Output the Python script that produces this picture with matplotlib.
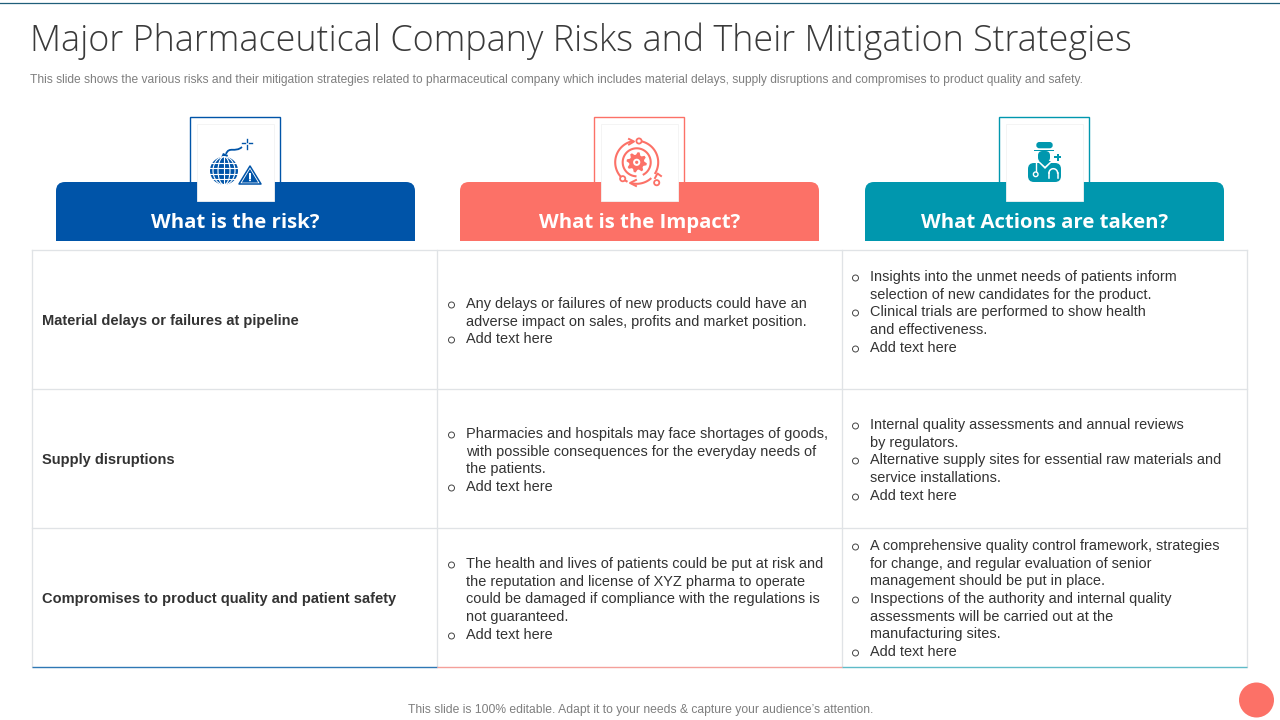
import numpy as np
import matplotlib
matplotlib.use("Agg")
import matplotlib.pyplot as plt
from matplotlib.patches import Rectangle, Circle, FancyBboxPatch, Polygon, Ellipse, PathPatch
from matplotlib.path import Path

BLUE = "#0054A8"; CORAL = "#FC7167"; TEAL = "#0097AE"
FS = "Liberation Sans"

title = "Major Pharmaceutical Company Risks and Their Mitigation Strategies"
subtitle = ("This slide shows the various risks and their mitigation strategies related to pharmaceutical company "
            "which includes material delays, supply disruptions and compromises to product quality and safety.")
footer = "This slide is 100% editable. Adapt it to your needs & capture your audience\u2019s attention."
headers = ["What is the risk?", "What is the Impact?", "What Actions are taken?"]
header_colors = [BLUE, CORAL, TEAL]
risks = ["Material delays or failures at pipeline", "Supply disruptions",
         "Compromises to product quality and patient safety"]
risk_y = [320, 459, 598]
impact_lines = [
    [("o", "Any delays or failures of new products could have an", 303),
     ("", "adverse impact on sales, profits and market position.", 321),
     ("o", "Add text here", 338)],
    [("o", "Pharmacies and hospitals may face shortages of goods,", 433),
     ("", "with possible consequences for the everyday needs of", 451),
     ("", "the patients.", 468),
     ("o", "Add text here", 486)],
    [("o", "The health and lives of patients could be put at risk and", 563),
     ("", "the reputation and license of XYZ pharma to operate", 581),
     ("", "could be damaged if compliance with the regulations is", 598),
     ("", "not guaranteed.", 616),
     ("o", "Add text here", 634)],
]
action_lines = [
    [("o", "Insights into the unmet needs of patients inform", 276),
     ("", "selection of new candidates for the product.", 294),
     ("o", "Clinical trials are performed to show health", 311),
     ("", "and effectiveness.", 329),
     ("o", "Add text here", 347)],
    [("o", "Internal quality assessments and annual reviews", 424),
     ("", "by regulators.", 442),
     ("o", "Alternative supply sites for essential raw materials and", 459),
     ("", "service installations.", 477),
     ("o", "Add text here", 495)],
    [("o", "A comprehensive quality control framework, strategies", 545),
     ("", "for change, and regular evaluation of senior", 563),
     ("", "management should be put in place.", 580),
     ("o", "Inspections of the authority and internal quality", 598),
     ("", "assessments will be carried out at the", 616),
     ("", "manufacturing sites.", 633),
     ("o", "Add text here", 651)],
]

fig = plt.figure(figsize=(12.8, 7.2), dpi=100)
ax = fig.add_axes([0, 0, 1, 1])
ax.set_xlim(0, 1280); ax.set_ylim(720, 0); ax.axis("off")

ax.plot([0, 1280], [3, 3], color="#1F5F7A", lw=0.9)

ax.text(30, 41, title, fontsize=25.83, family="Open Sans", weight="light", color="#3A3A3A", va="center")
ax.text(30, 80, subtitle, fontsize=8.63, family=FS, color="#7F7F7F", va="center")
ax.text(640.5, 710, footer, fontsize=8.7, family=FS, color="#7F7F7F", va="center", ha="center")

tab_x = [56, 460, 865]; tab_w = 359
frame_x = [190, 594, 999]; frame_w = 90
for x, fx, col, h in zip(tab_x, frame_x, header_colors, headers):
    ax.add_patch(Rectangle((fx, 117), frame_w, 70, fc="white", ec=col, lw=1, zorder=1))
    ax.add_patch(FancyBboxPatch((x + 9, 182 + 9), tab_w - 18, 41,
                                boxstyle="round,pad=9,rounding_size=9", fc=col, ec="none", zorder=2))
    ax.add_patch(Rectangle((x, 195), tab_w, 46, fc=col, ec="none", zorder=2))
    ax.add_patch(Rectangle((fx + 7, 124), 77, 77, fc="white", ec="#F3F3F3", lw=0.6, zorder=3))
    ax.text(x + tab_w / 2, 223, h, color="white", fontsize=14.7, family="Open Sans",
            weight="bold", ha="center", va="center", zorder=4)

xs = [32, 437, 842, 1247]; ys = [250, 389, 528, 667]
grid = "#E0E3E6"
for x in xs:
    ax.plot([x, x], [ys[0], ys[-1]], color=grid, lw=0.95, zorder=1)
for y in ys[:-1]:
    ax.plot([xs[0], xs[-1]], [y, y], color=grid, lw=0.95, zorder=1)
bottom_colors = ["#2F78B4", "#F4A09A", "#5FBBC8"]
for i, col in enumerate(bottom_colors):
    ax.plot([xs[i], xs[i + 1]], [ys[-1], ys[-1]], color=col, lw=1.0, solid_capstyle="butt", zorder=2)

for r, y in zip(risks, risk_y):
    ax.text(42.5, y + 1, r, fontsize=10.53, family=FS, weight="bold", color="#333333", va="center")

def block(lines, xb, xt):
    for bullet, s, y in lines:
        if bullet:
            ax.add_patch(Circle((xb, y + 2), 3.0, fc="none", ec="#444444", lw=0.7))
        ax.text(xt, y + 1, s, fontsize=10.45, family=FS, color="#333333", va="center")

for lines in impact_lines:
    block(lines, 451.5, 466)
for lines in action_lines:
    block(lines, 855.5, 870)

ax.add_patch(Circle((1256.5, 700), 17.5, fc=CORAL, ec="none"))

# --- icon 1: globe bomb with warning sign
cx, cy = 224, 170.7
ax.add_patch(Circle((cx, cy), 14, fc=BLUE, ec="none", zorder=5))
for dy in (-8, -3, 3, 8):
    ax.plot([cx - 14, cx + 14], [cy + dy, cy + dy], color="white", lw=0.8, zorder=6)
ax.plot([cx, cx], [cy - 14, cy + 14], color="white", lw=0.8, zorder=6)
for w in (12, 22):
    ax.add_patch(Ellipse((cx, cy), w, 28, fc="none", ec="white", lw=0.8, zorder=6))
ax.add_patch(Polygon([(221, 157.5), (223, 153), (228, 155), (227, 158)], closed=True, fc=BLUE, ec="none", zorder=5))
ax.add_patch(PathPatch(Path([(226, 154), (229, 146), (235, 153), (242, 147)],
                            [Path.MOVETO, Path.CURVE4, Path.CURVE4, Path.CURVE4]),
                       fc="none", ec=BLUE, lw=1.3, zorder=5))
for a, b in [((246.7, 138.5), (246.7, 141.5)), ((246.7, 145), (246.7, 149)),
             ((241.5, 143.3), (244.8, 143.3)), ((248.5, 143.3), (252, 143.3))]:
    ax.plot([a[0], b[0]], [a[1], b[1]], color=BLUE, lw=1, zorder=5)
ax.add_patch(Polygon([(250, 166), (261, 184), (239, 184)], closed=True, fc="white", ec=BLUE, lw=1.1,
                     joinstyle="round", zorder=6))
ax.add_patch(Polygon([(250, 169), (258.2, 182.6), (241.8, 182.6)], closed=True, fc=BLUE, ec="none", zorder=7))
ax.add_patch(Rectangle((249.1, 173), 1.9, 5.5, fc="white", ec="none", zorder=8))
ax.add_patch(Circle((250, 180.3), 1, fc="white", ec="none", zorder=8))

# --- icon 2: gear with circular arrows
cx, cy = 636.7, 162.3
ring = np.deg2rad(np.linspace(-60, 265, 80))
ax.plot(cx + 14 * np.cos(ring), cy + 14 * np.sin(ring) * -1, color=CORAL, lw=1.5, zorder=5)
ang = np.deg2rad(np.arange(0, 360, 11.25))
rad = np.where(np.arange(32) % 4 < 2, 10.2, 7.6)
ax.add_patch(Polygon(np.c_[cx + rad * np.cos(ang + 0.1), cy + rad * np.sin(ang + 0.1)], closed=True,
                     fc=CORAL, ec="none", zorder=6))
ax.add_patch(Circle((cx, cy), 3.6, fc="white", ec="none", zorder=7))
ax.add_patch(Circle((cx, cy), 1.6, fc=CORAL, ec="none", zorder=8))
for start, end in [(-78, 30), (50, 100), (118, 258)]:
    t = np.deg2rad(np.linspace(start, end, 40))
    ax.plot(cx + 21.5 * np.cos(t), cy + 21.5 * np.sin(t), color=CORAL, lw=1.5, zorder=5)
for p0, p1, p2 in [((629, 139), (634, 141.5), (629, 144.5)),
                   ((661, 176), (657.5, 173.5), (655, 178)),
                   ((636, 180), (630, 183), (636, 186))]:
    ax.plot([p0[0], p1[0], p2[0]], [p0[1], p1[1], p2[1]], color=CORAL, lw=1.4, zorder=6)
for px, py in [(639, 141), (656.7, 182.7), (622.7, 178.7)]:
    ax.add_patch(Circle((px, py), 2.6, fc="white", ec=CORAL, lw=1.3, zorder=6))

# --- icon 3: doctor
ax.add_patch(FancyBboxPatch((1028, 163), 33, 19, boxstyle="round,pad=0,rounding_size=6", fc=TEAL, ec="none", zorder=5))
ax.add_patch(Polygon([(1037, 161), (1053, 161), (1045, 169)], closed=True, fc="white", ec="none", zorder=6))
ax.add_patch(Polygon([(1039, 161), (1051, 161), (1045, 166.5)], closed=True, fc=TEAL, ec="none", zorder=7))
ax.add_patch(FancyBboxPatch((1038, 151), 12, 11, boxstyle="round,pad=0,rounding_size=4.5", fc=TEAL, ec="none", zorder=7))
ax.add_patch(Rectangle((1034, 149.5), 20, 1.8, fc=TEAL, ec="none", zorder=9))
ax.add_patch(FancyBboxPatch((1036.3, 142), 16.4, 6.3, boxstyle="round,pad=0,rounding_size=3", fc=TEAL, ec="none", zorder=9))
ax.plot([1035.7, 1035.7], [163, 172], color="white", lw=1, zorder=8)
ax.add_patch(Circle((1035.7, 174.3), 2.3, fc=TEAL, ec="white", lw=1, zorder=9))
t = np.linspace(np.pi, 2 * np.pi, 20)
ax.plot(1053.3 + 4.3 * np.cos(t), 173 + 4.3 * np.sin(t), color="white", lw=1.1, zorder=8)
ax.plot([1049, 1049], [173, 178], color="white", lw=1.1, zorder=8)
ax.plot([1057.6, 1057.6], [173, 178], color="white", lw=1.1, zorder=8)
ax.add_patch(Rectangle((1054, 156.2), 7.4, 2.2, fc=TEAL, ec="none", zorder=9))
ax.add_patch(Rectangle((1056.6, 153.6), 2.2, 7.4, fc=TEAL, ec="none", zorder=9))

fig.savefig("out.png", dpi=100)
